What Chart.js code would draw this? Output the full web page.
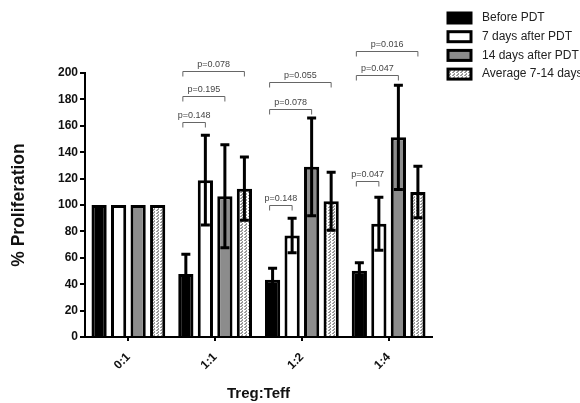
<!DOCTYPE html>
<html>
<head>
<meta charset="utf-8">
<script src="https://cdn.jsdelivr.net/npm/chart.js@4.4.1/dist/chart.umd.min.js"></script>
<style>
    html, body { margin: 0; padding: 0; background: #fff; }
    #wrap { width: 580px; height: 403px; }
</style>
</head>
<body>
<div id="wrap"><canvas id="prolifChart"></canvas></div>
<script>
const categories = ['0:1', '1:1', '1:2', '1:4'];
const seriesNames = ['Before PDT', '7 days after PDT', '14 days after PDT', 'Average 7-14 days'];

const beforePdt = [100, 47.7, 43.4, 50.2];
const after7 = [100, 118.8, 76.9, 85.8];
const after14 = [100, 106.6, 128.9, 151.3];
const average714 = [100, 112.4, 102.8, 109.9];

// error bar half-lengths (SD)
const beforeSd = [0, 15, 8.6, 6];
const after7Sd = [0, 34, 13, 20];
const after14Sd = [0, 39, 37, 39.5];
const averageSd = [0, 24, 22, 19.5];

const yTicks = [0, 20, 40, 60, 80, 100, 120, 140, 160, 180, 200];

// p-value brackets: category index, from bar, to bar, level (% proliferation), label
const bracketCat = [1, 1, 1, 2, 2, 2, 3, 3, 3];
const bracketFrom = [0, 0, 0, 0, 0, 0, 0, 0, 0];
const bracketTo = [1, 2, 3, 1, 2, 3, 1, 2, 3];
const bracketLevel = [162.9, 182.7, 201.4, 99.7, 172.8, 193.4, 118, 198.7, 217];
const bracketText = ['p=0.148', 'p=0.195', 'p=0.078', 'p=0.148', 'p=0.078', 'p=0.055', 'p=0.047', 'p=0.047', 'p=0.016'];

// light dotted fill for the averaged series
function makeDots() {
    const c = document.createElement('canvas');
    c.width = 4;
    c.height = 3;
    const g = c.getContext('2d');
    g.fillStyle = '#ffffff';
    g.fillRect(0, 0, 4, 3);
    g.fillStyle = '#9a9a9a';
    g.fillRect(0, 0, 2, 1);
    g.fillRect(2, 1, 1, 1);
    g.fillRect(1, 2, 2, 1);
    return g.createPattern(c, 'repeat');
}

const ctx = document.getElementById('prolifChart').getContext('2d');
const fills = ['#000000', '#ffffff', '#8c8c8c', makeDots()];
const values = [beforePdt, after7, after14, average714];
const sds = [beforeSd, after7Sd, after14Sd, averageSd];

const errorBars = {
    id: 'errorBars',
    afterDatasetsDraw(chart) {
        const c = chart.ctx;
        const y = chart.scales.y;
        c.save();
        c.strokeStyle = '#000';
        c.lineWidth = 3;
        chart.data.datasets.forEach((ds, di) => {
            const meta = chart.getDatasetMeta(di);
            meta.data.forEach((bar, i) => {
                const sd = sds[di][i];
                if (!sd) return;
                const top = y.getPixelForValue(ds.data[i] + sd);
                const bot = y.getPixelForValue(ds.data[i] - sd);
                c.beginPath();
                c.moveTo(bar.x, bot);
                c.lineTo(bar.x, top);
                c.moveTo(bar.x - 4.5, top);
                c.lineTo(bar.x + 4.5, top);
                if (di > 0) {
                    c.moveTo(bar.x - 4.5, bot);
                    c.lineTo(bar.x + 4.5, bot);
                }
                c.stroke();
            });
        });
        c.restore();
    }
};

const brackets = {
    id: 'brackets',
    afterDraw(chart) {
        const c = chart.ctx;
        const y = chart.scales.y;
        c.save();
        c.strokeStyle = '#666';
        c.lineWidth = 1;
        c.fillStyle = '#444';
        c.font = '9px "Liberation Sans", Arial, sans-serif';
        c.textAlign = 'center';
        c.textBaseline = 'bottom';
        bracketCat.forEach((cat, k) => {
            const x1 = chart.getDatasetMeta(bracketFrom[k]).data[cat].x - 3;
            const x2 = chart.getDatasetMeta(bracketTo[k]).data[cat].x;
            const yy = Math.round(y.getPixelForValue(bracketLevel[k])) + 0.5;
            c.beginPath();
            c.moveTo(x1, yy + 5);
            c.lineTo(x1, yy);
            c.lineTo(x2, yy);
            c.lineTo(x2, yy + 5);
            c.stroke();
            c.fillText(bracketText[k], (x1 + x2) / 2, yy - 2);
        });
        c.restore();
    }
};

const sideLegend = {
    id: 'sideLegend',
    afterDraw(chart) {
        const c = chart.ctx;
        c.save();
        c.font = '12px "Liberation Sans", Arial, sans-serif';
        c.textBaseline = 'middle';
        chart.data.datasets.forEach((ds, i) => {
            const rowY = 18 + i * 18.7;
            c.fillStyle = ds.backgroundColor;
            c.fillRect(448, rowY - 5, 23, 10);
            c.lineWidth = 3;
            c.strokeStyle = '#000';
            c.strokeRect(448, rowY - 5, 23, 10);
            c.fillStyle = '#222';
            c.fillText(ds.label, 482, rowY);
        });
        c.restore();
    }
};

new Chart(ctx, {
    type: 'bar',
    data: {
        labels: categories,
        datasets: seriesNames.map((name, i) => ({
            label: name,
            data: values[i],
            backgroundColor: fills[i],
            borderColor: '#000',
            borderWidth: 3,
            borderSkipped: 'bottom',
            barPercentage: 0.78,
            categoryPercentage: 0.9
        }))
    },
    options: {
        responsive: true,
        maintainAspectRatio: false,
        animation: false,
        layout: {
            padding: { top: 73, right: 148, bottom: 0, left: 0 }
        },
        plugins: {
            legend: { display: false },
            tooltip: { enabled: false }
        },
        scales: {
            x: {
                grid: { display: true, drawOnChartArea: false, offset: false, color: '#000', lineWidth: 2, tickLength: 4 },
                border: { color: '#000', width: 2 },
                ticks: {
                    color: '#111',
                    font: { family: '"Liberation Sans", Arial, sans-serif', size: 12, weight: 'bold' },
                    minRotation: 45,
                    maxRotation: 45,
                    padding: 9
                },
                title: {
                    display: true,
                    text: 'Treg:Teff',
                    color: '#111',
                    font: { family: '"Liberation Sans", Arial, sans-serif', size: 15, weight: 'bold' },
                    padding: { top: 0, bottom: 0 }
                },
                afterFit(scale) { scale.height = 66; }
            },
            y: {
                min: 0,
                max: 200,
                afterBuildTicks(scale) {
                    scale.ticks = yTicks.map(v => ({ value: v }));
                },
                grid: { display: true, drawOnChartArea: false, color: '#000', lineWidth: 2, tickLength: 5 },
                border: { color: '#000', width: 2 },
                ticks: {
                    color: '#111',
                    font: { family: '"Liberation Sans", Arial, sans-serif', size: 12, weight: 'bold' },
                    padding: 2
                },
                title: {
                    display: true,
                    text: '% Proliferation',
                    color: '#111',
                    font: { family: '"Liberation Sans", Arial, sans-serif', size: 17.5, weight: 'bold' },
                    padding: { top: 9, bottom: 0 }
                },
                afterFit(scale) { scale.width = 85; }
            }
        }
    },
    plugins: [errorBars, brackets, sideLegend]
});
</script>
</body>
</html>
